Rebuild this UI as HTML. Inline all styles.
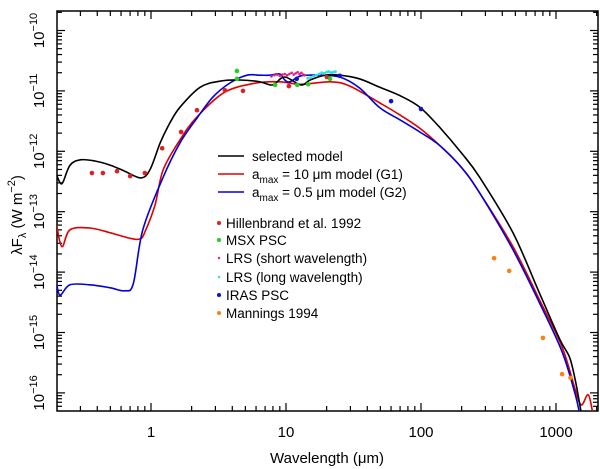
<!DOCTYPE html>
<html><head><meta charset="utf-8"><style>
body{margin:0;background:#fff}
svg{display:block;font-family:"Liberation Sans",sans-serif}
</style></head><body>
<svg id="c" width="600" height="469"></svg>
<script>
const blackLam=[0.2,0.212,0.223,0.251,0.30,0.385,0.5,0.64,0.84,0.98,1.17,1.38,1.64,2.31,3.24,4.56,6.4,7.6,8.3,9.8,12.9,15.1,19.4,25,35,49.6,70,98,137,200,272,480,755,1070,1260,1390,1530];
const blackLog=[-12.39,-12.52,-12.51,-12.23,-12.14,-12.16,-12.23,-12.33,-12.44,-12.31,-11.86,-11.53,-11.27,-10.94,-10.84,-10.82,-10.85,-10.90,-10.88,-10.77,-10.90,-10.82,-10.74,-10.74,-10.80,-10.94,-11.08,-11.27,-11.60,-12.03,-12.43,-13.35,-14.35,-15.12,-15.41,-15.79,-16.30];
const redLam=[0.2,0.219,0.251,0.353,0.5,0.70,0.83,0.90,1.07,1.23,1.64,2.19,3.53,6.0,9.0,12.9,21.2,29.7,49.6,70,98,137,200,272,480,755,1110,1390,1540,1730,1860];
const redLog=[-13.22,-13.58,-13.30,-13.27,-13.35,-13.44,-13.45,-13.34,-12.89,-12.31,-11.81,-11.43,-11.02,-10.87,-10.85,-10.89,-10.85,-10.92,-11.20,-11.40,-11.62,-11.90,-12.27,-12.69,-13.58,-14.46,-15.24,-15.95,-16.2,-16.03,-16.30];
const blueLam=[0.2,0.212,0.251,0.353,0.5,0.64,0.74,0.87,1.23,1.64,2.19,2.88,3.84,5.14,6.4,7.6,9.0,9.8,10.7,12.9,17.8,25,35,49.6,70,98,137,200,272,480,755,1110,1390,1480];
const blueLog=[-14.18,-14.38,-14.21,-14.21,-14.26,-14.31,-14.19,-13.30,-12.43,-11.86,-11.45,-11.10,-10.87,-10.74,-10.74,-10.74,-10.72,-10.82,-10.85,-10.75,-10.74,-10.77,-10.95,-11.28,-11.48,-11.68,-11.90,-12.27,-12.69,-13.63,-14.51,-15.32,-16.03,-16.30];
const hilLam=[0.365,0.44,0.56,0.70,0.90,1.21,1.67,2.19,3.53,4.80,10.5,20.1];
const hilLog=[-12.36,-12.36,-12.33,-12.41,-12.36,-11.95,-11.68,-11.32,-10.99,-11.00,-10.92,-10.77];
const msxLam=[4.33,4.33,8.3,12.1,14.6,21.2];
const msxLog=[-10.67,-10.80,-10.90,-10.90,-10.89,-10.80];
const lrsSLam=[7.8,8.2,8.6,9.0,9.4,9.8,10.2,10.6,11.0,11.4,11.8,12.2,12.6,13.0,13.4,13.8];
const lrsSLog=[-10.76,-10.74,-10.73,-10.75,-10.73,-10.72,-10.74,-10.72,-10.70,-10.73,-10.71,-10.69,-10.72,-10.70,-10.73,-10.74];
const lrsLLam=[14.5,15.2,16,16.8,17.6,18.4,19.2,20,20.8,21.6,22.4,23.2];
const lrsLLog=[-10.79,-10.78,-10.76,-10.74,-10.72,-10.70,-10.71,-10.69,-10.68,-10.70,-10.69,-10.68];
const irasLam=[12,25,60,100];
const irasLog=[-10.80,-10.75,-11.17,-11.30];
const manLam=[348,450,800,1110,1280];
const manLog=[-13.77,-13.98,-15.09,-15.69,-15.75];
const xTickVals=[1,10,100,1000];
const xTickLabels=["1","10","100","1000"];
const yTickExps=[-10,-11,-12,-13,-14,-15,-16];

const NS="http://www.w3.org/2000/svg";
const svg=document.getElementById('c');
const L=57,R=598,T=11,B=411;
const xp=l=>151+135*Math.log10(l);
const yp=lg=>30.5+60.4*(-10-lg);
function el(t,a,p){const e=document.createElementNS(NS,t);for(const k in a)e.setAttribute(k,a[k]);(p||svg).appendChild(e);return e;}
const clip=el('clipPath',{id:'cl'});el('rect',{x:L,y:T,width:R-L,height:B-T},clip);
const frame=el('rect',{x:L,y:T,width:R-L,height:B-T,fill:'none',stroke:'#000','stroke-width':1.5});


for(let d=-1;d<=3;d++)for(let m=1;m<10;m++){const v=m*Math.pow(10,d);const x=xp(v);if(x<L||x>R)continue;const len=m==1?8:5;
 el('line',{x1:x,y1:B,x2:x,y2:B-len,stroke:'#000','stroke-width':1.2});el('line',{x1:x,y1:T,x2:x,y2:T+len,stroke:'#000','stroke-width':1.2});}
for(let e=-17;e<=-9;e++)for(let m=1;m<10;m++){const y=yp(e+Math.log10(m));if(y<T||y>B)continue;const len=m==1?8:5;
 el('line',{x1:L,y1:y,x2:L+len,y2:y,stroke:'#000','stroke-width':1.2});el('line',{x1:R,y1:y,x2:R-len,y2:y,stroke:'#000','stroke-width':1.2});}
xTickVals.forEach((v,i)=>{const t=el('text',{x:xp(v),y:437,'font-size':15,'text-anchor':'middle'});t.textContent=xTickLabels[i];

});
yTickExps.forEach(e=>{const y=yp(e);const t=el('text',{transform:`translate(44,${y}) rotate(-90)`,'font-size':15,'text-anchor':'middle'});
 t.innerHTML=`10<tspan dy="-7" font-size="11">−${-e}</tspan>`;
 
 });
const xt=el('text',{x:327,y:463,'font-size':15,'text-anchor':'middle'});xt.textContent='Wavelength (μm)';


const yt=el('text',{transform:'translate(22,215) rotate(-90)','font-size':15,'text-anchor':'middle'});
yt.innerHTML='λF<tspan dy="4" font-size="11">λ</tspan><tspan dy="-4"> (W m</tspan><tspan dy="-7" font-size="11">−2</tspan><tspan dy="7">)</tspan>';


const g=el('g',{'clip-path':'url(#cl)'});
function line(lam,lg,col,name){
 const P=lam.map((l,i)=>[xp(l),yp(lg[i])]);
 let d='M'+P[0][0].toFixed(1)+','+P[0][1].toFixed(1);
 for(let i=0;i<P.length-1;i++){const p0=P[Math.max(0,i-1)],p1=P[i],p2=P[i+1],p3=P[Math.min(P.length-1,i+2)];
  const c1=[p1[0]+(p2[0]-p0[0])/6,p1[1]+(p2[1]-p0[1])/6],c2=[p2[0]-(p3[0]-p1[0])/6,p2[1]-(p3[1]-p1[1])/6];
  d+=`C${c1[0].toFixed(1)},${c1[1].toFixed(1)} ${c2[0].toFixed(1)},${c2[1].toFixed(1)} ${p2[0].toFixed(1)},${p2[1].toFixed(1)}`;}
 const p=el('path',{d,fill:'none',stroke:col,'stroke-width':1.6,'stroke-linejoin':'round'},g);
 
 }
line(redLam,redLog,'#e00000','g1-model-line');
line(blueLam,blueLog,'#0000e0','g2-model-line');
line(blackLam,blackLog,'#000','selected-model-line');
function pts(lam,lg,col,r,name){lam.forEach((l,i)=>{const c=el('circle',{cx:xp(l),cy:yp(lg[i]),r,fill:col},g);
 
 });}
pts(hilLam,hilLog,'#e02020',2.3,'hillenbrand-point');
pts(msxLam,msxLog,'#20d020',2.3,'msx-point');
pts(lrsSLam,lrsSLog,'#e0207f',1.3,'lrs-short-point');
pts(lrsLLam,lrsLLog,'#30e0e0',1.5,'lrs-long-point');
pts(irasLam,irasLog,'#1010d0',2.3,'iras-point');
pts(manLam,manLog,'#ff8010',2.3,'mannings-point');
const leg=el('g',{'font-size':13.5});


[['#000','selected model',156],['#e00000','a<tspan dy="4" font-size="10">max</tspan><tspan dy="-4"> = 10 μm model (G1)</tspan>',174],['#0000e0','a<tspan dy="4" font-size="10">max</tspan><tspan dy="-4"> = 0.5 μm model (G2)</tspan>',192]].forEach(r=>{
 const ln=el('line',{x1:218,y1:r[2],x2:244,y2:r[2],stroke:r[0],'stroke-width':1.6},leg);
 
 
 const t=el('text',{x:252,y:r[2]+5},leg);t.innerHTML=r[1];
 
 });
[['#e02020','Hillenbrand et al. 1992',223,2],['#20d020','MSX PSC',240,2],['#e0207f','LRS (short wavelength)',258,1.2],['#30e0e0','LRS (long wavelength)',277,1.2],['#1010d0','IRAS PSC',295,2],['#ff8010','Mannings 1994',313,2]].forEach(r=>{
 el('circle',{cx:219,cy:r[2],r:r[3],fill:r[0]},leg);
 const t=el('text',{x:226,y:r[2]+5},leg);t.textContent=r[1];
 
 });
</script>
</body></html>
